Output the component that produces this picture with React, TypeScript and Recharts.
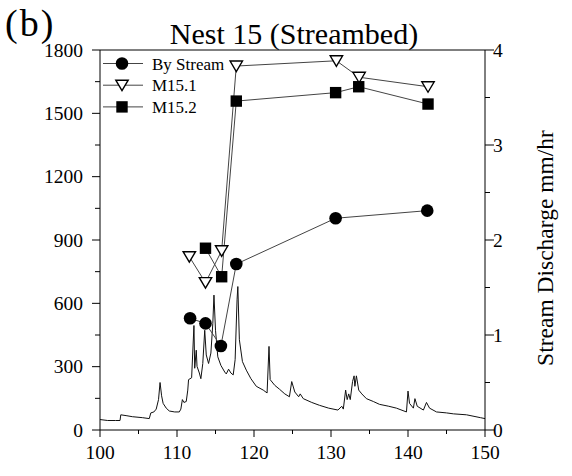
import { ComposedChart, Line, XAxis, YAxis, ReferenceLine } from 'recharts'

// stream discharge hydrograph (day, mm/hr) - right axis
const flowDay = [
  100.0, 101.0, 102.0, 102.6, 102.7, 103.5, 104.2, 105.5, 106.4, 106.6, 107.0, 107.3, 107.6, 107.8, 108.0,
  108.2, 108.6, 109.0, 109.7, 110.3, 110.5, 110.7, 110.9, 111.2, 111.4, 111.5, 111.9, 112.2, 112.3, 112.5,
  112.6, 112.9, 113.1, 113.35, 113.6, 113.8, 114.1, 114.4, 114.65, 114.8, 115.0, 115.3, 115.7, 116.2, 116.4,
  116.7, 117.0, 117.3, 117.55, 117.8, 117.9, 118.1, 118.5, 119.0, 119.6, 120.3, 121.2, 121.7, 121.95, 122.1,
  122.7, 123.3, 124.0, 124.6, 124.9, 125.3, 125.8, 126.0, 126.4, 127.5, 128.5, 129.7, 130.9, 131.4, 131.6,
  131.9, 132.1, 132.3, 132.5, 132.8, 133.0, 133.1, 133.3, 133.6, 134.0, 134.6, 135.5, 136.3, 137.5, 138.5,
  139.8, 140.0, 140.2, 140.7, 140.9, 141.2, 142.0, 142.4, 142.8, 143.7, 145.0, 145.9, 147.6, 149.4, 150.0,
]
const flowRate = [
  0.11, 0.10, 0.10, 0.10, 0.16, 0.15, 0.14, 0.13, 0.12, 0.18, 0.19, 0.22, 0.32, 0.50, 0.36,
  0.28, 0.23, 0.20, 0.19, 0.19, 0.22, 0.32, 0.29, 0.30, 0.42, 0.53, 0.55, 1.10, 0.65, 0.84,
  0.67, 0.60, 0.54, 0.70, 1.05, 0.79, 0.70, 0.81, 1.12, 1.42, 1.05, 0.77, 0.68, 0.61, 0.59,
  0.64, 0.60, 0.58, 0.74, 1.37, 1.51, 0.95, 0.72, 0.63, 0.54, 0.46, 0.42, 0.39, 0.88, 0.53,
  0.47, 0.43, 0.38, 0.35, 0.51, 0.40, 0.35, 0.38, 0.33, 0.29, 0.26, 0.23, 0.21, 0.25, 0.22,
  0.42, 0.32, 0.38, 0.32, 0.51, 0.57, 0.46, 0.57, 0.42, 0.38, 0.33, 0.30, 0.27, 0.25, 0.23,
  0.19, 0.41, 0.28, 0.23, 0.33, 0.25, 0.21, 0.29, 0.23, 0.19, 0.18, 0.17, 0.16, 0.13, 0.12,
]

// point series - left axis
const byStreamDay = [111.7, 113.7, 115.7, 117.7, 130.6, 142.5]
const byStreamVal = [529, 505, 398, 786, 1003, 1039]
const m151Day = [111.6, 113.7, 115.8, 117.7, 130.7, 133.65, 142.6]
const m151Val = [821, 698, 849, 1724, 1749, 1671, 1626]
const m152Day = [113.7, 115.8, 117.7, 130.6, 133.6, 142.6]
const m152Val = [861, 726, 1558, 1598, 1626, 1544]

const xTicks = [100, 105, 110, 115, 120, 125, 130, 135, 140, 145, 150]
const leftTicks = [0, 150, 300, 450, 600, 750, 900, 1050, 1200, 1350, 1500, 1650, 1800]
const rightTicks = [0, 0.5, 1, 1.5, 2, 2.5, 3, 3.5, 4]

const zip = (xs: number[], ys: number[]) => xs.map((x, i) => ({ x, y: ys[i] }))
const flow = zip(flowDay, flowRate)
const byStream = zip(byStreamDay, byStreamVal)
const m151 = zip(m151Day, m151Val)
const m152 = zip(m152Day, m152Val)

const FONT = '"Liberation Serif", "Times New Roman", serif'

const XTick = (p: any) => {
  const major = p.payload.value % 10 === 0
  return (
    <g>
      <line x1={p.x} x2={p.x} y1={p.y} y2={p.y + (major ? 7 : 4)} stroke="#000" />
      {major && (
        <text x={p.x} y={p.y + 29} textAnchor="middle" fontSize={19.5} fontFamily={FONT} fill="#000">
          {p.payload.value}
        </text>
      )}
    </g>
  )
}

const LeftTick = (p: any) => {
  const major = p.payload.value % 300 === 0
  return (
    <g>
      <line x1={p.x} x2={p.x - (major ? 8 : 5)} y1={p.y} y2={p.y} stroke="#000" />
      {major && (
        <text x={p.x - 17} y={p.y + 6.5} textAnchor="end" fontSize={19.5} fontFamily={FONT} fill="#000">
          {p.payload.value}
        </text>
      )}
    </g>
  )
}

const RightTick = (p: any) => {
  const major = Number.isInteger(p.payload.value)
  return (
    <g>
      <line x1={p.x} x2={p.x + (major ? 9 : 5)} y1={p.y} y2={p.y} stroke="#000" />
      {major && (
        <text x={p.x + 8} y={p.y + 6.5} textAnchor="start" fontSize={19.5} fontFamily={FONT} fill="#000">
          {p.payload.value}
        </text>
      )}
    </g>
  )
}

const circleDot = (p: any) => <circle key={p.index} cx={p.cx} cy={p.cy} r={6.3} fill="#000" />
const squareDot = (p: any) => <rect key={p.index} x={p.cx - 5.7} y={p.cy - 5.7} width={11.4} height={11.4} fill="#000" />
const triDot = (p: any) => (
  <path
    key={p.index}
    d={`M${p.cx - 6.2},${p.cy - 5} L${p.cx + 6.2},${p.cy - 5} L${p.cx},${p.cy + 5.5} Z`}
    fill="#fff"
    stroke="#000"
    strokeWidth={1.4}
  />
)

const legendRows = [
  { label: 'By Stream', kind: 'circle' },
  { label: 'M15.1', kind: 'tri' },
  { label: 'M15.2', kind: 'square' },
]

export default function App() {
  return (
    <div style={{ position: 'absolute', left: 0, top: 0, width: 572, height: 476, background: '#fff' }}>
      <ComposedChart width={572} height={476} margin={{ top: 50, right: 0, bottom: 0, left: 0 }}>
        <XAxis
          type="number"
          dataKey="x"
          domain={[100, 150]}
          ticks={xTicks}
          interval={0}
          height={46}
          tickSize={0}
          tickMargin={0}
          tickLine={false}
          tick={XTick}
          axisLine={{ stroke: '#000' }}
        />
        <YAxis
          yAxisId="left"
          domain={[0, 1800]}
          ticks={leftTicks}
          interval={0}
          width={100}
          tickSize={0}
          tickMargin={0}
          tickLine={false}
          tick={LeftTick}
          axisLine={{ stroke: '#000' }}
        />
        <YAxis
          yAxisId="right"
          orientation="right"
          domain={[0, 4]}
          ticks={rightTicks}
          interval={0}
          width={87}
          tickSize={0}
          tickMargin={0}
          tickLine={false}
          tick={RightTick}
          axisLine={{ stroke: '#000' }}
        />
        <ReferenceLine yAxisId="left" y={1800} stroke="#000" />
        <Line
          yAxisId="right"
          data={flow}
          dataKey="y"
          type="linear"
          stroke="#111"
          strokeWidth={1}
          dot={false}
          activeDot={false}
          isAnimationActive={false}
        />
        <Line
          yAxisId="left"
          data={m151}
          dataKey="y"
          type="linear"
          stroke="#444"
          strokeWidth={1}
          dot={triDot}
          activeDot={false}
          isAnimationActive={false}
        />
        <Line
          yAxisId="left"
          data={m152}
          dataKey="y"
          type="linear"
          stroke="#444"
          strokeWidth={1}
          dot={squareDot}
          activeDot={false}
          isAnimationActive={false}
        />
        <Line
          yAxisId="left"
          data={byStream}
          dataKey="y"
          type="linear"
          stroke="#444"
          strokeWidth={1}
          dot={circleDot}
          activeDot={false}
          isAnimationActive={false}
        />
      </ComposedChart>
      <svg
        width={572}
        height={476}
        style={{ position: 'absolute', left: 0, top: 0, pointerEvents: 'none' }}
        fontFamily={FONT}
      >
        <text x={5} y={36} fontSize={38} letterSpacing={2} fill="#000">(b)</text>
        <text x={294} y={44} fontSize={30} textAnchor="middle" fill="#000">Nest 15 (Streambed)</text>
        <text transform="translate(553,248) rotate(-90)" textAnchor="middle" fontSize={23.5} fill="#000">
          Stream Discharge mm/hr
        </text>
        {legendRows.map((r, i) => {
          const cy = 63.5 + i * 21.7
          return (
            <g key={r.label}>
              <line x1={103} x2={143} y1={cy} y2={cy} stroke="#444" />
              {r.kind === 'circle' && circleDot({ cx: 122, cy, index: i })}
              {r.kind === 'tri' && triDot({ cx: 122, cy, index: i })}
              {r.kind === 'square' && squareDot({ cx: 122, cy, index: i })}
              <text x={152} y={cy + 6} fontSize={17} fill="#000">{r.label}</text>
            </g>
          )
        })}
      </svg>
    </div>
  )
}
